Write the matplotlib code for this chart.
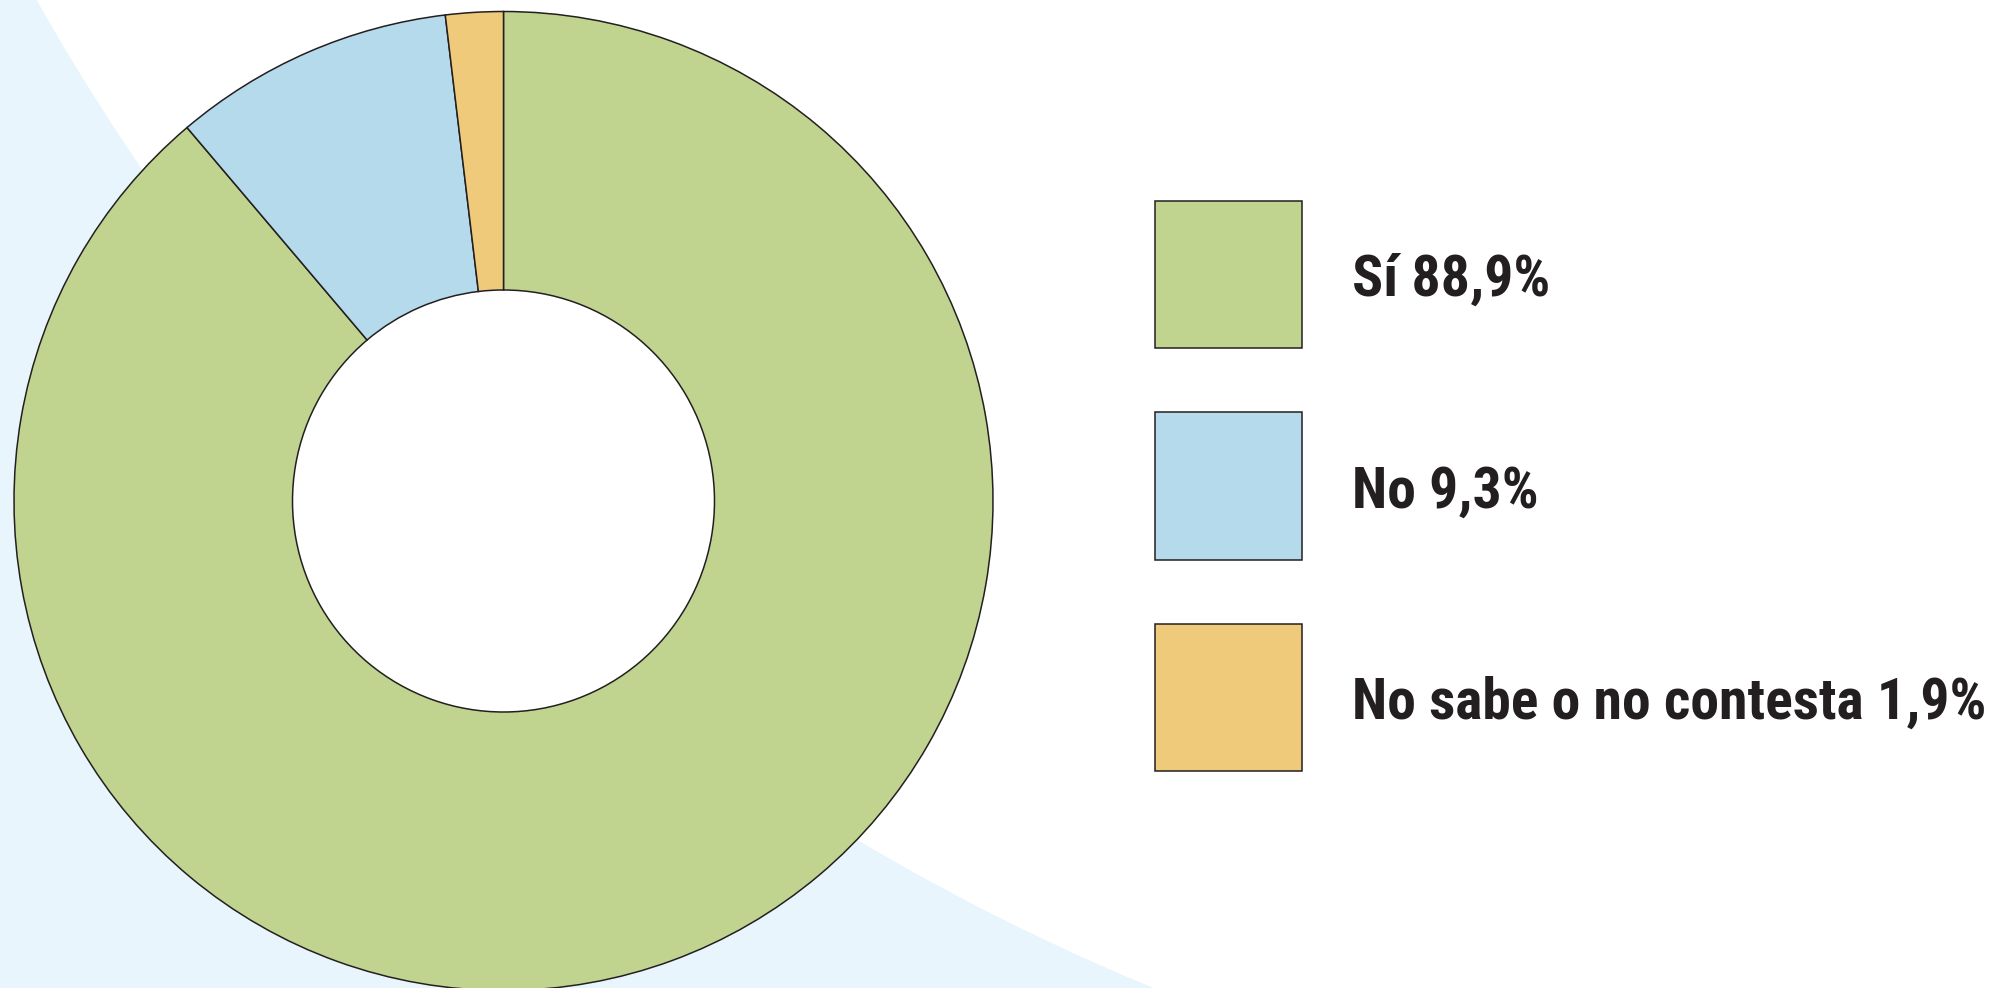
import matplotlib.pyplot as plt
from matplotlib import font_manager
from matplotlib.patches import Circle, Rectangle

categories = ['Sí', 'No', 'No sabe o no contesta']
values = [88.9, 9.3, 1.9]
colors = ['#C0D490', '#B5DAEB', '#EFCA7A']

W, H = 2009, 988
ink = '#231F20'

# pick a narrow bold face if one is around
installed = {f.name for f in font_manager.fontManager.ttflist}
narrow = [n for n in ['Liberation Sans Narrow', 'Roboto Condensed', 'Open Sans Condensed',
                      'DejaVu Sans Condensed'] if n in installed]
font_family = narrow[:1] + ['DejaVu Sans']

fig = plt.figure(figsize=(W / 100, H / 100), dpi=100)
ax = fig.add_axes([0, 0, 1, 1])

# light blue backdrop with a big white circle cut out of the upper right
ax.add_patch(Rectangle((0, 0), W, H, facecolor='#E8F5FC', edgecolor='none', zorder=0))
ax.add_patch(Circle((2022, H + 1119), 2279, facecolor='white', edgecolor='none', zorder=0.5))

# donut
cx, cy, r_out, r_in = 503.5, H - 501, 489.5, 211
ax.add_patch(Circle((cx, cy), r_in, facecolor='white', edgecolor='none', zorder=0.8))
ax.pie(values, colors=colors, startangle=90, counterclock=False,
       center=(cx, cy), radius=r_out,
       wedgeprops=dict(width=r_out - r_in, edgecolor=ink, linewidth=1.1))

# legend
box_x, box_size = 1154.5, 147.5
box_tops = [201, 412.5, 624]
for cat, val, col, top in zip(categories, values, colors, box_tops):
    y0 = H - top - box_size
    ax.add_patch(Rectangle((box_x, y0), box_size, box_size, facecolor=col,
                           edgecolor=ink, linewidth=1.1, zorder=3))
    label = f'{cat} {val:.1f}%'.replace('.', ',')
    ax.text(1352, y0 + box_size / 2 - 21, label, ha='left', va='baseline',
            fontsize=41.5, fontweight='bold', fontstretch='condensed', color=ink,
            family=font_family)

ax.set_xlim(0, W)
ax.set_ylim(0, H)
ax.set_aspect('equal')
ax.axis('off')

plt.savefig('out.png', dpi=100)
